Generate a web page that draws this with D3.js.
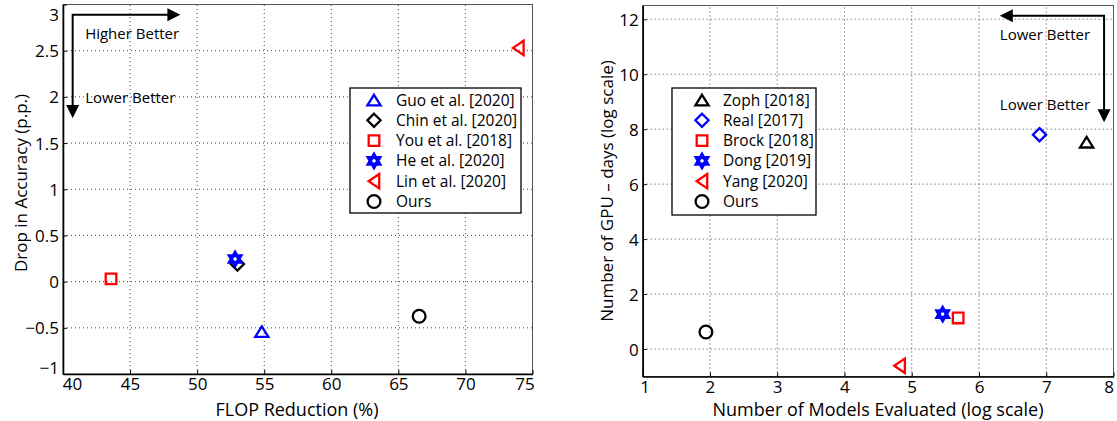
<!DOCTYPE html>
<html><head><meta charset="utf-8">
<script src="https://cdn.jsdelivr.net/npm/d3@7"></script>
<style>
body{margin:0;background:#fff;}
text{font-family:"Open Sans",sans-serif;fill:#000;}
</style></head>
<body><svg id="c" width="1117" height="421"></svg>
<script>
// ---------- Left chart data ----------
const leftNames = ["Guo et al. [2020]","Chin et al. [2020]","You et al. [2018]","He et al. [2020]","Lin et al. [2020]","Ours"];
const leftX = [54.82, 53.0, 43.58, 52.83, 73.95, 66.55];
const leftY = [-0.54, 0.19, 0.03, 0.245, 2.53, -0.375];
const leftShapes = ["triUp","diamond","square","hexagram","triLeft","circle"];
const leftColors = ["#0000ff","#000000","#ff0000","#0000ff","#ff0000","#000000"];
const leftXTicks = [40,45,50,55,60,65,70,75];
const leftYTicks = [-1,-0.5,0,0.5,1,1.5,2,2.5,3];

// ---------- Right chart data ----------
const rightNames = ["Zoph [2018]","Real [2017]","Brock [2018]","Dong [2019]","Yang [2020]","Ours"];
const rightX = [7.6, 6.9, 5.69, 5.46, 4.82, 1.94];
const rightY = [7.53, 7.8, 1.13, 1.27, -0.61, 0.62];
const rightShapes = ["triUp","diamond","square","hexagram","triLeft","circle"];
const rightColors = ["#000000","#0000ff","#ff0000","#0000ff","#ff0000","#000000"];
const rightXTicks = [1,2,3,4,5,6,7,8];
const rightYTicks = [0,2,4,6,8,10,12];

const svg = d3.select("#c");

function shapePath(kind){
  const p = d3.path();
  if(kind==="triUp"){ p.moveTo(0,-5.2); p.lineTo(6.6,5.4); p.lineTo(-6.6,5.4); p.closePath(); }
  else if(kind==="triLeft"){ p.moveTo(-5.4,0); p.lineTo(5.2,-7.2); p.lineTo(5.2,7.2); p.closePath(); }
  else if(kind==="diamond"){ p.moveTo(0,-6.6); p.lineTo(6.6,0); p.lineTo(0,6.6); p.lineTo(-6.6,0); p.closePath(); }
  else if(kind==="square"){ p.rect(-5.3,-5.3,10.6,10.6); }
  else if(kind==="circle"){ p.moveTo(6.4,0); p.arc(0,0,6.4,0,2*Math.PI); p.closePath(); }
  else if(kind==="hexagram"){
    const R=7.4, r=R/Math.sqrt(3);
    for(let i=0;i<12;i++){
      const a = -Math.PI/2 + i*Math.PI/6;
      const rr = i%2===0?R:r;
      const x = rr*Math.cos(a), y = rr*Math.sin(a);
      if(i===0) p.moveTo(x,y); else p.lineTo(x,y);
    }
    p.closePath();
  }
  return p.toString();
}

function drawMarker(g, kind, color, x, y){
  const isHex = kind==="hexagram";
  g.append("path").attr("d", shapePath(kind))
   .attr("transform",`translate(${x},${y})`)
   .attr("fill", isHex ? color : "none").attr("stroke",color).attr("stroke-width",2.3)
   .attr("stroke-linejoin","miter");
  if(isHex){
    const p = d3.path();
    for(let i=0;i<6;i++){
      const a = i*Math.PI/3, rr=1.9;
      if(i===0) p.moveTo(x+rr*Math.cos(a), y+rr*Math.sin(a)); else p.lineTo(x+rr*Math.cos(a), y+rr*Math.sin(a));
    }
    p.closePath();
    g.append("path").attr("d",p.toString()).attr("fill","#fff");
  }
}

function arrowHead(g, x, y, dir){
  const L=13, W=6.5; let pts;
  if(dir==="right") pts=[[x,y],[x-L,y-W],[x-L,y+W]];
  if(dir==="left") pts=[[x,y],[x+L,y-W],[x+L,y+W]];
  if(dir==="down") pts=[[x,y],[x-W,y-L],[x+W,y-L]];
  g.append("path").attr("d","M"+pts.map(p=>p.join(",")).join("L")+"Z").attr("fill","#000");
}

function drawChart(cfg){
  const g = svg.append("g");
  const x = cfg.x, y = cfg.y;
  const [x0,x1] = x.range(), [y0,y1] = y.range();
  g.selectAll(".gx").data(cfg.xTicks.slice(1,-1)).join("line")
    .attr("x1",d=>x(d)).attr("x2",d=>x(d)).attr("y1",y0).attr("y2",y1)
    .attr("stroke","#444").attr("stroke-width",1).attr("stroke-dasharray","1,3");
  g.selectAll(".gy").data(cfg.yTicks.filter(v=>y(v)<y0-1 && y(v)>y1+1)).join("line")
    .attr("y1",d=>y(d)).attr("y2",d=>y(d)).attr("x1",x0).attr("x2",x1)
    .attr("stroke","#444").attr("stroke-width",1).attr("stroke-dasharray","1,3");
  g.append("rect").attr("x",x0).attr("y",y1).attr("width",x1-x0).attr("height",y0-y1)
    .attr("fill","none").attr("stroke","#555").attr("stroke-width",1);
  const fmt = d => d3.format("")(d).replace("-","\u2212");
  const ax = g.append("g").attr("transform",`translate(0,${y0})`)
    .call(d3.axisBottom(x).tickValues(cfg.xTicks).tickSizeInner(-4).tickSizeOuter(0).tickPadding(4).tickFormat(fmt));
  const ay = g.append("g").attr("transform",`translate(${x0},0)`)
    .call(d3.axisLeft(y).tickValues(cfg.yTicks).tickSizeInner(-4).tickSizeOuter(0).tickPadding(4).tickFormat(fmt));
  [ax,ay].forEach(a=>{
    a.select(".domain").attr("stroke","#000").attr("stroke-width",1.6);
    a.selectAll(".tick line").attr("stroke","#000").attr("stroke-width",1);
    a.selectAll("text").style("font-family","'Open Sans',sans-serif").style("font-size","17px").attr("fill","#000");
  });
  ax.selectAll(".tick text").attr("dx",(d,i)=> cfg.xShift[i]||0);
  ay.selectAll(".tick text").attr("dy",(d,i)=> (cfg.yShift[i]||0) + 6);
  g.append("text").attr("x",cfg.xLabelPos[0]).attr("y",cfg.xLabelPos[1]).attr("text-anchor","middle")
    .style("font-size","18px").text(cfg.xLabel);
  g.append("text").attr("transform",`translate(${cfg.yLabelPos[0]},${cfg.yLabelPos[1]}) rotate(-90)`)
    .attr("text-anchor","middle").style("font-size","17px").text(cfg.yLabel);
  cfg.names.forEach((n,i)=> drawMarker(g, cfg.shapes[i], cfg.colors[i], x(cfg.xs[i]), y(cfg.ys[i])));
  const lg = cfg.legend;
  g.append("rect").attr("x",lg.x).attr("y",lg.y).attr("width",lg.w).attr("height",lg.h)
    .attr("fill","#fff").attr("stroke","#000").attr("stroke-width",1.3);
  cfg.names.forEach((n,i)=>{
    const yy = lg.y + 12 + i*lg.step;
    drawMarker(g, cfg.shapes[i], cfg.colors[i], lg.x + lg.mx, yy);
    g.append("text").attr("x",lg.x+lg.tx).attr("y",yy+5.5).style("font-size","15.5px").text(n);
  });
  return g;
}

// ---------- Left chart ----------
const lx = d3.scaleLinear().domain([40,75]).range([63,532.5]);
const ly = d3.scaleLinear().domain([-1,3]).range([374,4.5]);
const gl = drawChart({x:lx,y:ly,xTicks:leftXTicks,yTicks:leftYTicks,
  xShift:{0:9,7:-8}, yShift:{0:-7,8:10},
  xLabel:"FLOP Reduction (%)", yLabel:"Drop in Accuracy (p.p.)",
  xLabelPos:[297,415.5], yLabelPos:[27,183],
  names:leftNames,xs:leftX,ys:leftY,shapes:leftShapes,colors:leftColors,
  legend:{x:350,y:88,w:171,h:125,step:20.3,mx:24,tx:46}});
{
  const cx=40.72, cy=2.89;
  gl.append("path").attr("d",`M${lx(48.7)-10},${ly(cy)}L${lx(cx)},${ly(cy)}L${lx(cx)},${ly(1.77)-10}`)
    .attr("fill","none").attr("stroke","#000").attr("stroke-width",2);
  arrowHead(gl, lx(48.75), ly(cy), "right");
  arrowHead(gl, lx(cx), ly(1.77), "down");
  gl.append("text").attr("x",lx(41.65)).attr("y",ly(2.69)+5.5).style("font-size","15px").text("Higher Better");
  gl.append("text").attr("x",lx(41.65)).attr("y",ly(1.99)+5.5).style("font-size","15px").text("Lower Better");
}

// ---------- Right chart ----------
const rx = d3.scaleLinear().domain([1,8]).range([642.7,1113.5]);
const ry = d3.scaleLinear().domain([-1,12.5]).range([376.5,5.5]);
const gr = drawChart({x:rx,y:ry,xTicks:rightXTicks,yTicks:rightYTicks,
  xShift:{0:2,7:-5}, yShift:{},
  xLabel:"Number of Models Evaluated (log scale)", yLabel:"Number of GPU \u2013 days (log scale)",
  xLabelPos:[878,415.5], yLabelPos:[613,191],
  names:rightNames,xs:rightX,ys:rightY,shapes:rightShapes,colors:rightColors,
  legend:{x:672,y:88,w:144,h:127,step:20.3,mx:30,tx:51}});
{
  const cx=7.86, cy=12.13;
  gr.append("path").attr("d",`M${rx(6.31)+10},${ry(cy)}L${rx(cx)},${ry(cy)}L${rx(cx)},${ry(8.25)-10}`)
    .attr("fill","none").attr("stroke","#000").attr("stroke-width",2);
  arrowHead(gr, rx(6.31), ry(cy), "left");
  arrowHead(gr, rx(cx), ry(8.25), "down");
  gr.append("text").attr("x",rx(6.31)).attr("y",ry(11.45)+5.5).style("font-size","15px").text("Lower Better");
  gr.append("text").attr("x",rx(6.31)).attr("y",ry(8.9)+5.5).style("font-size","15px").text("Lower Better");
}
</script></body></html>
